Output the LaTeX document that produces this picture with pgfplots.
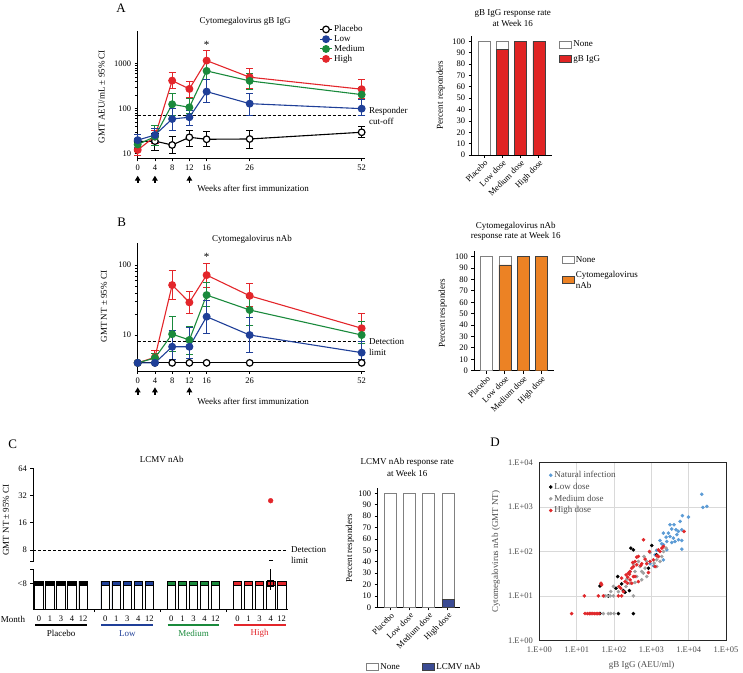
\documentclass[border=0pt]{standalone}
\usepackage{fontspec}
\setmainfont{Liberation Serif}
\usepackage{pgfplots}
\pgfplotsset{compat=1.18}
\usetikzlibrary{arrows.meta}

\definecolor{cblue}{HTML}{1F3F98}
\definecolor{cgreen}{HTML}{1A8A3C}
\definecolor{cred}{HTML}{E3262B}
\definecolor{barred}{HTML}{E02424}
\definecolor{barorange}{HTML}{EC8224}
\definecolor{lcmvblue}{HTML}{3B4B93}
\definecolor{natblue}{HTML}{5B9BD5}
\definecolor{medgray}{HTML}{A0A0A0}
\definecolor{dred}{HTML}{E0282B}

\newcommand\lf{\fontsize{9}{10.5}\selectfont}
\newcommand\tf{\fontsize{8.5}{9.5}\selectfont}

\pgfplotsset{
  every axis/.append style={
    scale only axis,
    anchor=south west,
    /pgf/number format/assume math mode=true,
    tick label style={font=\tf},
    tick align=outside,
    major tick length=3pt,
    axis line style={line width=0.9pt},
    every tick/.style={line width=0.8pt, black},
  },
  ser/.style={color=#1, line width=1.1pt, mark=*, mark size=3.4pt, mark options={fill=#1, solid},
    error bars/y dir=both, error bars/y explicit,
    error bars/error bar style={line width=0.9pt, #1},
    error bars/error mark options={rotate=90, mark size=3.6pt, line width=0.9pt, #1}},
  pla/.style={color=black, line width=1.1pt, mark=*, mark size=3.3pt, mark options={fill=white, draw=black, line width=1.2pt, solid},
    error bars/y dir=both, error bars/y explicit,
    error bars/error bar style={line width=0.9pt, black},
    error bars/error mark options={rotate=90, mark size=3.6pt, line width=0.9pt, black}},
}

\begin{document}
\begin{tikzpicture}
\useasboundingbox (0pt,0pt) rectangle (743pt,672pt);

% ---------------- Panel A: line chart ----------------
\begin{axis}[at={(137.7pt,513.7pt)}, width=227.4pt, height=127.3pt,
  xmin=0, xmax=52.8, ymode=log, axis lines*=left, xtick={0,4,8,12,16,26,52}, clip=false,
  ymin=7.9, ymax=5300, ytick={10,100,1000}, yticklabels={10,100,1000},
  legend style={draw=none, fill=none, at={(0.80,1.06)}, anchor=north west, font=\lf, legend cell align=left, row sep=-1.8pt, inner sep=0pt},
  legend image code/.code={\draw[#1] (0cm,0cm) -- (0.4cm,0cm); \draw[#1] plot[only marks] coordinates {(0.2cm,0cm)};}]
\addlegendimage{black, line width=1pt, mark=*, mark size=3.3pt, mark options={fill=white, draw=black, line width=1.2pt, solid}}
\addlegendentry{Placebo}
\addlegendimage{cblue, line width=1pt, mark=*, mark size=3.4pt, mark options={fill=cblue, solid}}
\addlegendentry{Low}
\addlegendimage{cgreen, line width=1pt, mark=*, mark size=3.4pt, mark options={fill=cgreen, solid}}
\addlegendentry{Medium}
\addlegendimage{cred, line width=1pt, mark=*, mark size=3.4pt, mark options={fill=cred, solid}}
\addlegendentry{High}
\addplot[forget plot, dash pattern=on 3pt off 2pt, line width=1.1pt] coordinates {(0,71) (52.8,71)};
\addplot[forget plot, pla] coordinates {(0,18.5) += (0,8.5) -= (0,5.5) (4,19) += (0,9.4) -= (0,6.9) (8,15.6) += (0,9.1) -= (0,5.7) (12,23.1) += (0,10.5) -= (0,8.3) (16,20.9) += (0,9.9) -= (0,6.6) (26,21.2) += (0,12.4) -= (0,8.0) (52,29.9) += (0,9.9) -= (0,7.2)};
\addplot[forget plot, ser=cred] coordinates {(0,12.1) += (0,3.9) -= (0,2.8) (4,24) += (0,9) -= (0,7) (8,419) += (0,212) -= (0,135) (12,274) += (0,126) -= (0,95) (16,1167) += (0,777) -= (0,469) (26,499) += (0,292) -= (0,215) (52,270) += (0,180) -= (0,100)};
\addplot[forget plot, ser=cgreen] coordinates {(0,16) += (0,6) -= (0,5) (4,23.9) += (0,18) -= (0,9) (8,125) += (0,87) -= (0,53) (12,107) += (0,63) -= (0,28) (16,689) += (0,418) -= (0,254) (26,413) += (0,199) -= (0,143) (52,205) += (0,94) -= (0,49)};
\addplot[forget plot, ser=cblue] coordinates {(0,20) += (0,7) -= (0,6) (4,26) += (0,10) -= (0,8) (8,59) += (0,41) -= (0,25.4) (12,64.4) += (0,26.6) -= (0,23) (16,239) += (0,196) -= (0,103) (26,129) += (0,91) -= (0,57) (52,100) += (0,62) -= (0,31)};
\end{axis}

% ---------------- Panel A: bar chart ----------------
\begin{axis}[at={(471.7pt,517pt)}, width=80pt, height=119.3pt, xmin=-0.67, xmax=3.7,
  ybar stacked, bar width=12pt, ymin=0, ymax=105,
  ytick={0,10,...,100}, xtick={0,1,2,3},
  xticklabels={Placebo,Low dose,Medium dose,High dose},
  xticklabel style={rotate=45, anchor=north east, inner sep=1pt},
  axis lines*=left,
  legend style={draw=none, fill=none, font=\lf, legend cell align=left, row sep=3pt, at={(1.05,0.99)}, anchor=north west},
  legend image code/.code={\draw[#1] (0pt,-3pt) rectangle (12pt,4pt);}]
\addlegendimage{fill=white, draw=gray}
\addlegendentry{None}
\addlegendimage{fill=barred, draw=black!75}
\addlegendentry{gB IgG}
\addplot[forget plot, fill=barred, draw=black!75] coordinates {(0,0) (1,92.9) (2,100) (3,100)};
\addplot[forget plot, fill=white, draw=gray] coordinates {(0,100) (1,7.1) (2,0) (3,0)};
\end{axis}

% ---------------- Panel B: line chart ----------------
\begin{axis}[at={(137.7pt,301pt)}, width=227.4pt, height=127.7pt,
  xmin=0, xmax=52.8, ymode=log, axis lines*=left, xtick={0,4,8,12,16,26,52}, clip=false,
  ymin=3.06, ymax=205, ytick={10,100}, yticklabels={10,100}]
\addplot[dash pattern=on 3pt off 2pt, line width=1.1pt] coordinates {(0,8) (52.8,8)};
\addplot[pla] coordinates {(0,4) (4,4) (8,4) (12,4) (16,4) (26,4) (52,4)};
\addplot[ser=cred] coordinates {(0,4) (4,4.8) += (0,1.3) -= (0,0.8) (8,51.8) += (0,31.2) -= (0,19.1) (12,29.3) += (0,12.3) -= (0,8.9) (16,72) += (0,34) -= (0,24) (26,36.4) += (0,18.3) -= (0,10.4) (52,12.5) += (0,7.9) -= (0,4.9)};
\addplot[ser=cgreen] coordinates {(0,4) (4,4.7) += (0,0.7) -= (0,0.6) (8,10.3) += (0,8.4) -= (0,4.5) (12,8.5) += (0,4.9) -= (0,3.2) (16,37.3) += (0,19.2) -= (0,11.3) (26,22.8) += (0,12.2) -= (0,8.9) (52,10) += (0,5.8) -= (0,2.4)};
\addplot[ser=cblue] coordinates {(0,4) (4,4) (8,6.8) += (0,5.0) -= (0,2.3) (12,6.8) += (0,5.9) -= (0,2.1) (16,18.3) += (0,13.3) -= (0,7.7) (26,10) += (0,7.9) -= (0,4.4) (52,5.6) += (0,2.4) -= (0,1.1)};
\end{axis}

% ---------------- Panel B: bar chart ----------------
\begin{axis}[at={(474.3pt,301.3pt)}, width=80pt, height=119.7pt, xmin=-0.67, xmax=3.7,
  ybar stacked, bar width=12pt, ymin=0, ymax=105,
  ytick={0,10,...,100}, xtick={0,1,2,3},
  xticklabels={Placebo,Low dose,Medium dose,High dose},
  xticklabel style={rotate=45, anchor=north east, inner sep=1pt},
  axis lines*=left,
  legend style={draw=none, fill=none, font=\lf, legend cell align=left, row sep=3pt, at={(1.05,0.99)}, anchor=north west},
  legend image code/.code={\draw[#1] (0pt,-3pt) rectangle (12pt,4pt);}]
\addlegendimage{fill=white, draw=gray}
\addlegendentry{None}
\addlegendimage{fill=barorange, draw=black!75}
\addlegendentry{\shortstack[l]{Cytomegalovirus\\nAb}}
\addplot[forget plot, fill=barorange, draw=black!75] coordinates {(0,0) (1,92.9) (2,100) (3,100)};
\addplot[forget plot, fill=white, draw=gray] coordinates {(0,100) (1,7.1) (2,0) (3,0)};
\end{axis}

% ---------------- Panel C: LCMV nAb ----------------
\begin{axis}[at={(33.3pt,63pt)}, width=255pt, height=141.3pt,
  xmin=-0.52, xmax=22.6, ymin=0.84, ymax=6.02,
  axis lines*=left, y axis line style={draw=none},
  ytick={1.78,3,4,5,6}, yticklabels={<8,8,16,32,64},
  xtick={5,11,17}, xticklabels={}]
\addplot[dash pattern=on 3pt off 2pt, line width=1.1pt] coordinates {(-0.52,3) (22.6,3)};
\addplot[ybar, bar width=8.5pt, bar shift=0pt, fill=black, draw=black, line width=0.8pt] coordinates {(0,1.865) (1,1.865) (2,1.865) (3,1.865) (4,1.865)};
\addplot[ybar, bar width=8.5pt, bar shift=0pt, fill=cblue, draw=black, line width=0.8pt] coordinates {(6,1.865) (7,1.865) (8,1.865) (9,1.865) (10,1.865)};
\addplot[ybar, bar width=8.5pt, bar shift=0pt, fill=cgreen, draw=black, line width=0.8pt] coordinates {(12,1.865) (13,1.865) (14,1.865) (15,1.865) (16,1.865)};
\addplot[ybar, bar width=8.5pt, bar shift=0pt, fill=cred, draw=black, line width=0.8pt] coordinates {(18,1.865) (19,1.865) (20,1.865) (21,1.865) (22,1.865)};
\addplot[ybar, bar width=8.5pt, bar shift=0pt, fill=white, draw=black, line width=0.8pt] coordinates {(0,1.69) (1,1.69) (2,1.69) (3,1.69) (4,1.69) (6,1.69) (7,1.69) (8,1.69) (9,1.69) (10,1.69) (12,1.69) (13,1.69) (14,1.69) (15,1.69) (16,1.69) (18,1.69) (19,1.69) (20,1.69) (21,1.69) (22,1.69)};
\addplot[only marks, mark=*, mark size=2.4pt, color=cred] coordinates {(21,4.81)};
\addplot[only marks, mark=square, mark size=3pt, black, line width=0.8pt,
  error bars/y dir=both, error bars/y explicit, error bars/error bar style={black, line width=0.8pt}, error bars/error mark=none] coordinates {(21,1.78) += (0,0.51) -= (0,0.25)};
\addplot[only marks, mark=-, mark size=2pt, line width=1.3pt, black] coordinates {(21,2.63)};
\end{axis}
% broken y axis of C
\draw[line width=0.9pt] (33.3pt,63pt) -- (33.3pt,102.7pt) (30.3pt,102.7pt) -- (33.3pt,102.7pt);
\draw[line width=0.9pt] (33.3pt,110.3pt) -- (33.3pt,204.3pt) (30.3pt,110.3pt) -- (33.3pt,110.3pt);
% month labels
\foreach \g in {0,6,12,18}{
  \node[font=\tf, inner sep=0pt] at ({39pt+11.03pt*(\g+0)},53pt) {0};
  \node[font=\tf, inner sep=0pt] at ({39pt+11.03pt*(\g+1)},53pt) {1};
  \node[font=\tf, inner sep=0pt] at ({39pt+11.03pt*(\g+2)},53pt) {3};
  \node[font=\tf, inner sep=0pt] at ({39pt+11.03pt*(\g+3)},53pt) {4};
  \node[font=\tf, inner sep=0pt] at ({39pt+11.03pt*(\g+4)},53pt) {12};
}
\node[font=\lf, inner sep=0pt] at (13pt,53pt) {Month};
\draw[line width=1.8pt, black] (35.1pt,47pt) -- (87pt,47pt);
\draw[line width=1.8pt, cblue] (101.3pt,47pt) -- (153.2pt,47pt);
\draw[line width=1.8pt, cgreen] (167.5pt,47pt) -- (219.4pt,47pt);
\draw[line width=1.8pt, cred] (233.7pt,47pt) -- (285.6pt,47pt);
\node[font=\lf, inner sep=0pt] at (61pt,38.7pt) {Placebo};
\node[font=\lf, inner sep=0pt, text=cblue] at (127.3pt,38.7pt) {Low};
\node[font=\lf, inner sep=0pt, text=cgreen] at (193.5pt,38.7pt) {Medium};
\node[font=\lf, inner sep=0pt, text=cred] at (259.7pt,38.7pt) {High};

% ---------------- Panel C: bar chart ----------------
\begin{axis}[at={(377.7pt,64.7pt)}, width=82.3pt, height=119.7pt, xmin=-0.67, xmax=3.64,
  ybar stacked, bar width=12pt, ymin=0, ymax=105,
  ytick={0,10,...,100}, xtick={0,1,2,3},
  xticklabels={Placebo,Low dose,Medium dose,High dose},
  xticklabel style={rotate=45, anchor=north east, inner sep=1pt},
  axis lines*=left,
  legend columns=2,
  legend style={draw=none, fill=none, font=\lf, legend cell align=left, at={(-0.18,-0.43)}, anchor=north west, /tikz/every even column/.append style={column sep=20pt}},
  legend image code/.code={\draw[#1] (0pt,-3pt) rectangle (12pt,4pt);}]
\addlegendimage{fill=white, draw=gray}
\addlegendentry{None}
\addlegendimage{fill=lcmvblue, draw=black!75}
\addlegendentry{LCMV nAb}
\addplot[forget plot, fill=lcmvblue, draw=black!75] coordinates {(0,0) (1,0) (2,0) (3,7.1)};
\addplot[forget plot, fill=white, draw=gray] coordinates {(0,100) (1,100) (2,100) (3,92.9)};
\end{axis}

% ---------------- Panel D: scatter ----------------
\begin{axis}[at={(539.4pt,31.7pt)}, width=186.6pt, height=177.6pt,
  xmode=log, ymode=log, xmin=1, xmax=1e5, ymin=1, ymax=1e4,
  xtick={1,10,100,1000,10000,100000},
  xticklabels={1.E+00,1.E+01,1.E+02,1.E+03,1.E+04,1.E+05},
  ytick={1,10,100,1000,10000},
  yticklabels={1.E+00,1.E+01,1.E+02,1.E+03,1.E+04},
  tick label style={font=\tf, text=black!70},
  grid=major, grid style={gray!30, line width=0.7pt},
  axis line style={line width=1pt, black!85},
  tick style={draw=none},
  legend style={draw=none, fill=none, at={(0.035,0.975)}, anchor=north west, font=\lf, text=black!70, legend cell align=left, row sep=0pt},
  legend image code/.code={\draw[#1] plot coordinates {(0.1cm,0cm)};}]
\addplot[only marks, mark=*, mark size=1.6pt, color=natblue] coordinates {
(22400,1938) (23900,984) (30600,1037) (6780,640) (9820,598) (5880,476) (3170,401) (4060,401)
(3520,320) (4590,309) (5300,283) (6530,309) (2100,260) (2860,260) (3170,218) (3890,201)
(5300,184) (6530,177) (4320,168) (3520,160) (2590,168) (1900,149) (1710,177) (6530,113)
(2590,109) (2100,142) (2100,65) (1260,84) (1390,106) (925,53) (1140,47.5) (4800,240) (2480,211)};
\addlegendentry{Natural infection}
\addplot[only marks, mark=*, mark size=1.6pt, color=black] coordinates {
(281,119) (330,109) (1024,137) (1390,84) (833,42) (125,27.3) (42,16.8) (113,14.9) (160,18.7)
(178,13.2) (197,12.1) (258,13.2) (42,4) (131,4) (330,4) (70,10)};
\addlegendentry{Low dose}
\addplot[only marks, mark=*, mark size=1.6pt, color=medgray] coordinates {
(210,16.3) (269,19.3) (405,27.3) (612,32.5) (752,27.3) (365,20) (498,45.9) (552,35.4) (637,77.3)
(752,59.6) (924,95) (1183,54.6) (1394,45.9) (1714,59.6) (1901,77.3) (330,52.8) (449,59.6)
(219,23.8) (81.5,12.5) (96,16.3) (131,12.5) (57.3,10) (66.2,10) (78.1,10) (96,10) (330,10)
(22.7,4) (51.8,4) (70.5,4) (81.5,4) (100,4) (269,35.4) (365,35.4) (552,23) (678,42.2)
(2483,119) (2104,100) (1394,65)};
\addlegendentry{Medium dose}
\addplot[only marks, mark=*, mark size=1.6pt, color=dred] coordinates {
(7.3,4) (16.7,4) (19.3,4) (21.8,4) (24.2,4) (26.8,4) (29.7,4) (33,4) (35.8,4) (39.7,4)
(16,10) (38,10) (51.8,10) (131,10) (160,10)
(44.8,19.3) (46.7,17.7) (136,16.3) (151,14.9) (178,12.5) (210,29.8) (232,26.4) (258,30.8)
(269,35.4) (298,42.2) (330,45.9) (316,56.5) (365,59.6) (405,74.6) (449,77.3) (405,50.1)
(519,48.4) (552,52.8) (612,184) (678,67.3) (752,52.8) (833,33.6) (924,59.6) (1135,65)
(1259,45.9) (1394,80) (1545,109) (1714,100) (1901,119) (2104,130) (7516,283) (330,27.3)
(269,23) (228,19.3) (298,19.3) (197,21) (160,25.1) (242,32.5) (365,27.3) (449,21) (885,100) (1545,77)};
\addlegendentry{High dose}
\end{axis}

% ---------------- arrows under A and B ----------------
\foreach \w in {0,4,12}{
  \draw[-{Triangle[width=5.5pt,length=5pt]}, line width=1.6pt] ({137.7pt+4.3068pt*\w},489.3pt) -- ++(0,7pt);
  \draw[-{Triangle[width=5.5pt,length=5pt]}, line width=1.6pt] ({137.7pt+4.3068pt*\w},277pt) -- ++(0,7.7pt);
}

% ---------------- texts ----------------
\node[font=\fontsize{13}{14}\selectfont, inner sep=0pt] at (121pt,663.5pt) {A};
\node[font=\fontsize{13}{14}\selectfont, inner sep=0pt] at (121.7pt,449.3pt) {B};
\node[font=\fontsize{13}{14}\selectfont, inner sep=0pt] at (12.7pt,228pt) {C};
\node[font=\fontsize{13}{14}\selectfont, inner sep=0pt] at (495pt,229.3pt) {D};

\node[font=\lf, inner sep=0pt] at (245pt,650.3pt) {Cytomegalovirus gB IgG};
\node[font=\lf, inner sep=0pt, rotate=90] at (101.7pt,575.3pt) {GMT AEU/mL ± 95\% CI};
\node[font=\lf, inner sep=0pt] at (253pt,484pt) {Weeks after first immunization};
\node[font=\lf, inner sep=0pt, anchor=west] at (369pt,561pt) {Responder};
\node[font=\lf, inner sep=0pt, anchor=west] at (369pt,550.3pt) {cut-off};
\node[font=\fontsize{11}{12}\selectfont, inner sep=0pt] at (206.6pt,627.5pt) {*};

\node[font=\lf, inner sep=0pt] at (512.7pt,658.7pt) {gB IgG response rate};
\node[font=\lf, inner sep=0pt] at (512.7pt,648.2pt) {at Week 16};
\node[font=\lf, inner sep=0pt, rotate=90] at (440.7pt,577pt) {Percent responders};

\node[font=\lf, inner sep=0pt] at (252pt,433pt) {Cytomegalovirus nAb};
\node[font=\lf, inner sep=0pt, rotate=90] at (104pt,365.3pt) {GMT NT ± 95\% CI};
\node[font=\lf, inner sep=0pt] at (253pt,270.3pt) {Weeks after first immunization};
\node[font=\lf, inner sep=0pt, anchor=west] at (369pt,330.3pt) {Detection};
\node[font=\lf, inner sep=0pt, anchor=west] at (369pt,319.3pt) {limit};
\node[font=\fontsize{11}{12}\selectfont, inner sep=0pt] at (206.6pt,414.8pt) {*};

\node[font=\lf, inner sep=0pt] at (515.7pt,446pt) {Cytomegalovirus nAb};
\node[font=\lf, inner sep=0pt] at (515.7pt,435.3pt) {response rate at Week 16};
\node[font=\lf, inner sep=0pt, rotate=90] at (442.7pt,358.7pt) {Percent responders};

\node[font=\lf, inner sep=0pt] at (161.7pt,213pt) {LCMV nAb};
\node[font=\lf, inner sep=0pt, rotate=90] at (6pt,152pt) {GMT NT ± 95\% CI};
\node[font=\lf, inner sep=0pt, anchor=west] at (291pt,122pt) {Detection};
\node[font=\lf, inner sep=0pt, anchor=west] at (291pt,111.3pt) {limit};

\node[font=\lf, inner sep=0pt] at (407.3pt,209.3pt) {LCMV nAb response rate};
\node[font=\lf, inner sep=0pt] at (407.3pt,198.7pt) {at Week 16};
\node[font=\lf, inner sep=0pt, rotate=90] at (350pt,123.7pt) {Percent responders};

\node[font=\lf, inner sep=0pt, rotate=90, text=black!70] at (496pt,120.3pt) {Cytomegalovirus nAb (GMT NT)};
\node[font=\lf, inner sep=0pt, text=black!70] at (641.7pt,7pt) {gB IgG (AEU/ml)};
\end{tikzpicture}
\end{document}
